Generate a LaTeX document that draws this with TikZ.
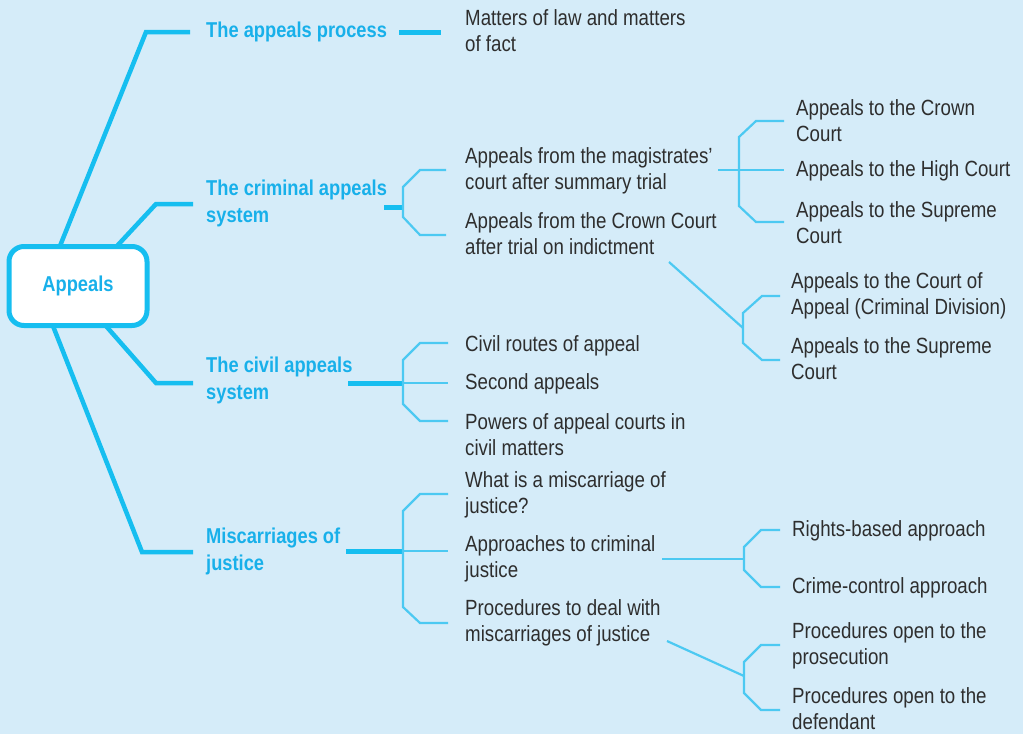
\documentclass[tikz,border=0pt]{standalone}
\usepackage{fontspec}
\setmainfont{Liberation Sans}[FakeStretch=0.85]
\definecolor{bg}{HTML}{D5ECF9}
\definecolor{mainc}{HTML}{16BEF0}
\definecolor{thinc}{HTML}{4CC9F2}
\definecolor{txt}{HTML}{2E2E2E}
\definecolor{head}{HTML}{18B0EA}
\begin{document}
\begin{tikzpicture}[x=1pt,y=-1pt,
 lbl/.style={anchor=west,inner sep=0pt,align=left,text=txt,font=\fontsize{22}{26}\selectfont},
 topic/.style={anchor=west,inner sep=0pt,align=left,text=head,font=\fontsize{21.5}{27}\selectfont\bfseries},
 mainline/.style={draw=mainc,line width=4.5pt},
 stub/.style={draw=mainc,line width=5pt},
 thinline/.style={draw=thinc,line width=2.2pt,line join=miter}]
\fill[bg] (0,0) rectangle (1023,734);
\useasboundingbox (0,0) rectangle (1023,734);
% root
\node[draw=mainc,line width=5pt,fill=white,rounded corners=15pt,minimum width=138pt,minimum height=79pt,inner sep=0pt,text=head,font=\fontsize{21.5}{24}\selectfont\bfseries] (root) at (78,286) {Appeals};
% topics
\node[topic] (ap) at (206,32) {The appeals process};
\node[topic] (cr) at (206,203) {The criminal appeals\\system};
\node[topic] (cv) at (206,380) {The civil appeals\\system};
\node[topic] (mj) at (206,551) {Miscarriages of\\justice};
% main branches
\draw[mainline] (60,246) -- (146,32) -- (190,32);
\draw[mainline] (117,246) -- (156,204) -- (193,204);
\draw[mainline] (106,326) -- (156,383) -- (193,383);
\draw[mainline] (53,326) -- (142,552) -- (193,552);
% labels
\node[lbl] (mf) at (465,31) {Matters of law and matters\\of fact};
\node[lbl] (am) at (465,171) {Appeals from the magistrates’\\court after summary trial};
\node[lbl] (ac) at (465,234) {Appeals from the Crown Court\\after trial on indictment};
\node[lbl] (cc) at (796,121) {Appeals to the Crown\\Court};
\node[lbl] (hc) at (796,171) {Appeals to the High Court};
\node[lbl] (sc) at (796,223) {Appeals to the Supreme\\Court};
\node[lbl] (ca) at (791,296) {Appeals to the Court of\\Appeal (Criminal Division)};
\node[lbl] (sc2) at (791,359) {Appeals to the Supreme\\Court};
\node[lbl] (cv1) at (465,346) {Civil routes of appeal};
\node[lbl] (cv2) at (465,384) {Second appeals};
\node[lbl] (cv3) at (465,435) {Powers of appeal courts in\\civil matters};
\node[lbl] (mj1) at (465,495) {What is a miscarriage of\\justice?};
\node[lbl] (mj2) at (465,559) {Approaches to criminal\\justice};
\node[lbl] (mj3) at (465,623) {Procedures to deal with\\miscarriages of justice};
\node[lbl] (r1) at (792,531) {Rights-based approach};
\node[lbl] (r2) at (792,588) {Crime-control approach};
\node[lbl] (p1) at (792,646) {Procedures open to the\\prosecution};
\node[lbl] (p2) at (792,709) {Procedures open to the\\defendant};
% appeals process
\draw[stub] (399,32) -- (441,32);
% criminal
\draw[stub] (384,207) -- (404,207);
\draw[thinline] (446,170) -- (420,170) -- (403,187) -- (403,217) -- (420,235) -- (446,235);
\draw[thinline] (718,170) -- (784,170);
\draw[thinline] (784,121) -- (756,121) -- (739,137) -- (739,206) -- (756,222) -- (784,222);
\draw[thinline] (669,262) -- (743,328);
\draw[thinline] (780,296) -- (762,296) -- (743,313) -- (743,343) -- (762,360) -- (780,360);
% civil
\draw[stub] (348,383) -- (404,383);
\draw[thinline] (448,343) -- (420,343) -- (403,360) -- (403,404) -- (420,421) -- (448,421);
\draw[thinline] (403,383) -- (448,383);
% miscarriages
\draw[stub] (346,551) -- (404,551);
\draw[thinline] (448,494) -- (420,494) -- (403,511) -- (403,607) -- (420,623) -- (448,623);
\draw[thinline] (403,551) -- (448,551);
\draw[thinline] (662,559) -- (744,559);
\draw[thinline] (780,530) -- (761,530) -- (744,547) -- (744,570) -- (761,587) -- (780,587);
\draw[thinline] (667,641) -- (744,676);
\draw[thinline] (780,645) -- (761,645) -- (744,662) -- (744,693) -- (761,710) -- (780,710);
\end{tikzpicture}
\end{document}
